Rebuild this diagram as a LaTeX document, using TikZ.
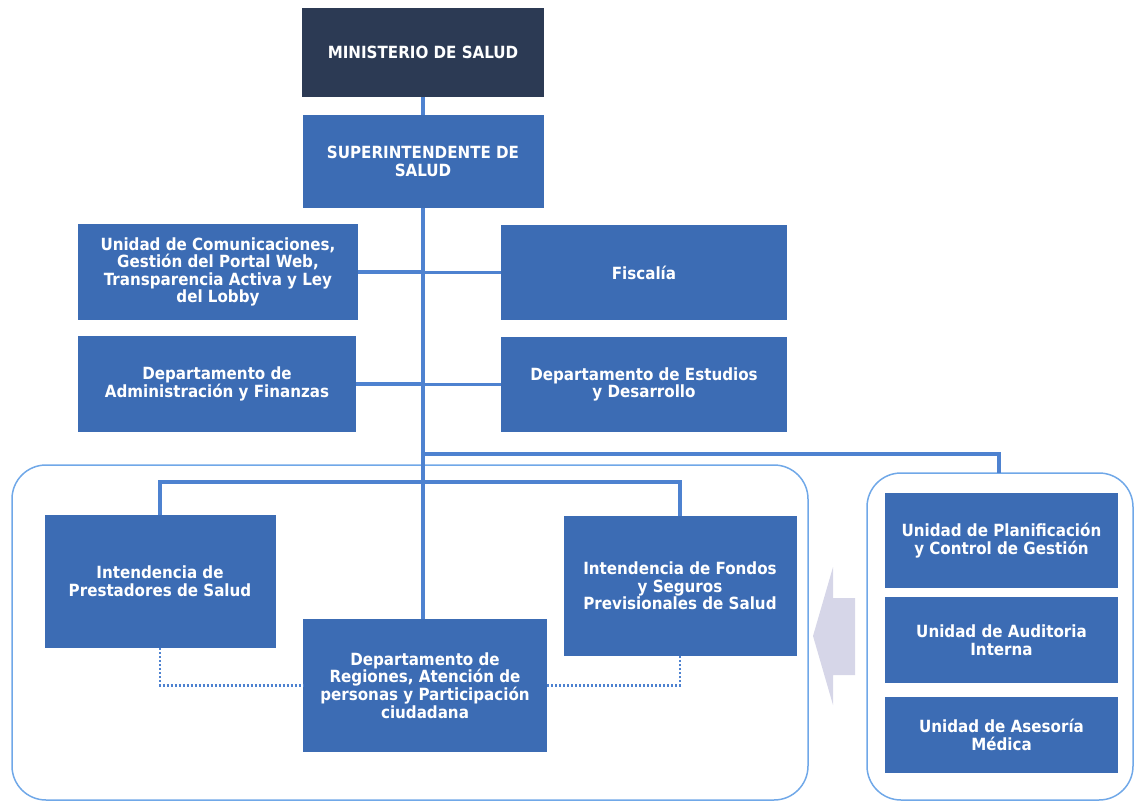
\documentclass[tikz,border=0pt]{standalone}
\usepackage{fontspec}
\setmainfont{DejaVu Sans Condensed}
\usepackage{tikz}
\usetikzlibrary{calc,positioning}
\usepackage{xcolor}
\definecolor{Marino}{RGB}{44,58,84}
\definecolor{Azul}{RGB}{60,108,180}
\definecolor{Linea}{RGB}{78,130,208}
\definecolor{Marco}{RGB}{112,168,232}
\definecolor{Lila}{RGB}{214,214,232}

\begin{document}
\begin{tikzpicture}[x=1pt,y=-1pt,
  caja/.style={fill=Azul, text=white, align=center, inner sep=0pt,
    font=\bfseries\fontsize{16.8}{17.6}\selectfont},
  enlace/.style={draw=Linea, line width=3.5pt},
  punteado/.style={draw=Linea, line width=2.5pt, dash pattern=on 2pt off 2pt},
  marco/.style={draw=Marco, line width=1.5pt, rounded corners=34pt}]
\useasboundingbox (0,0) rectangle (1135,803);
%
\draw[marco] (12,465) rectangle (808,800);
\draw[marco] (867,473) rectangle (1133,800);
%
\node[caja, fill=Marino, minimum width=242pt, minimum height=89pt] (minsal) at (423,52.5) {MINISTERIO DE SALUD};
\node[caja, minimum width=241pt, minimum height=93pt] (super) at (423,161.5) {SUPERINTENDENTE DE\\SALUD};
\node[caja, minimum width=280pt, minimum height=96pt] (comun) at (218,272) {Unidad de Comunicaciones,\\Gestión del Portal Web,\\Transparencia Activa y Ley\\del Lobby};
\node[caja, minimum width=286pt, minimum height=95pt] (fisc) at (644,272.5) {Fiscalía};
\node[caja, minimum width=278pt, minimum height=96pt] (admin) at (217,384) {Departamento de\\Administración y Finanzas};
\node[caja, minimum width=286pt, minimum height=95pt] (estud) at (644,384.5) {Departamento de Estudios\\y Desarrollo};
\node[caja, minimum width=231pt, minimum height=133pt] (prest) at (160,581.5) {Intendencia de\\Prestadores de Salud};
\node[caja, minimum width=244pt, minimum height=133pt] (regio) at (425,685.5) {Departamento de\\Regiones, Atención de\\personas y Participación\\ciudadana};
\node[caja, minimum width=233pt, minimum height=140pt] (fondos) at (680,586) {Intendencia de Fondos\\y Seguros\\Previsionales de Salud};
\node[caja, minimum width=233pt, minimum height=95pt] (planif) at (1001.5,540.5) {Unidad de Planificación\\y Control de Gestión};
\node[caja, minimum width=233pt, minimum height=86pt] (audit) at (1001.5,640) {Unidad de Auditoria\\Interna};
\node[caja, minimum width=233pt, minimum height=76pt] (asesor) at (1001.5,735) {Unidad de Asesoría\\Médica};
%
\coordinate (tronco) at (423,454);
\coordinate (ramaD) at (999,473);
\coordinate (cruce) at (423,482);
\draw[enlace] (minsal) -- (super);
\draw[enlace] (super.south) -- (super.south |- regio.north);
\draw[enlace] (comun.east) -- (comun.east -| super.south);
\draw[enlace] (fisc.west) -- (fisc.west -| super.south);
\draw[enlace] (admin.east) -- (admin.east -| super.south);
\draw[enlace] (estud.west) -- (estud.west -| super.south);
\draw[enlace] (tronco) -| (ramaD);
\draw[enlace] (prest.north) |- (cruce) -| (fondos.north);
\draw[punteado] (prest.south) |- (regio.west);
\draw[punteado] (regio.east) -| (fondos.south);
%
\fill[Lila] (813,636) -- (833,567) -- (833,598) -- (855,598) -- (855,675) -- (833,675) -- (833,705) -- cycle;
\end{tikzpicture}
\end{document}
